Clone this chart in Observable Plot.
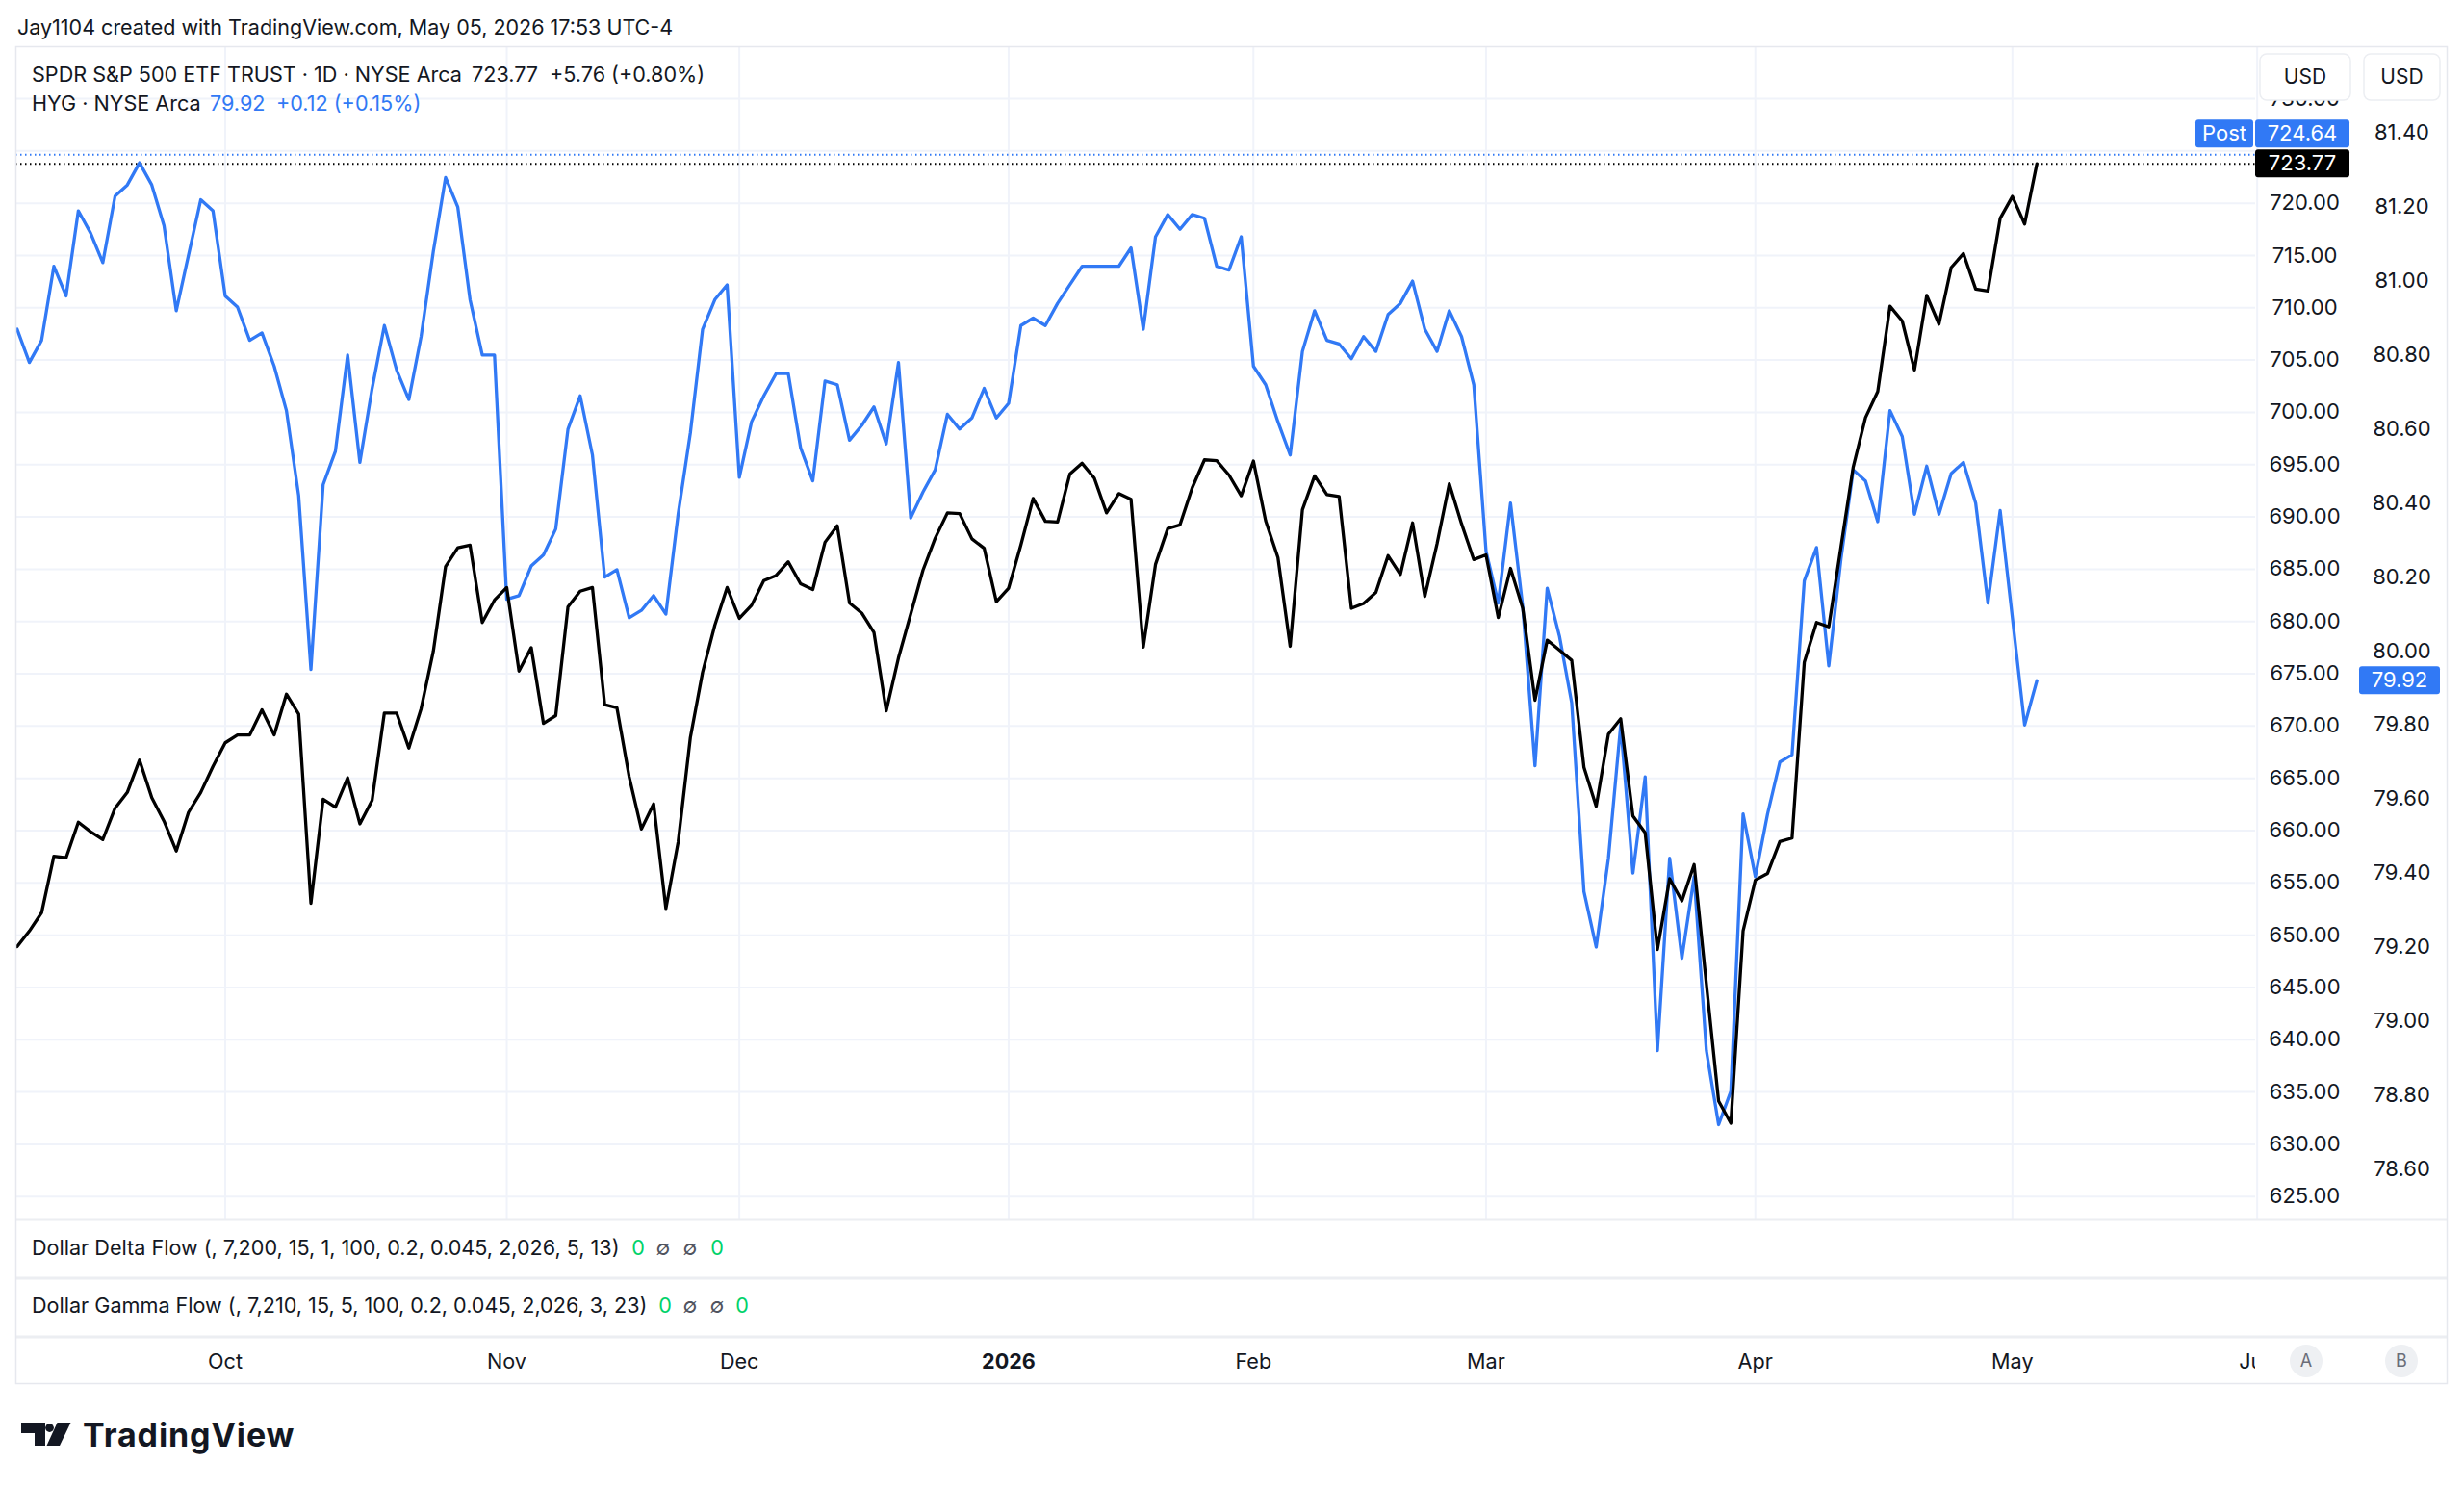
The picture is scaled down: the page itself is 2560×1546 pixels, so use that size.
<!DOCTYPE html>
<html>
<head>
<meta charset="utf-8">
<script src="https://cdn.jsdelivr.net/npm/d3@7"></script>
<script src="https://cdn.jsdelivr.net/npm/@observablehq/plot@0.6"></script>
<style>
  html, body { margin: 0; padding: 0; background: #ffffff; }
  body { font-family: Inter, "Noto Sans", sans-serif; color: #131722; }
  #wrap { position: relative; width: 2560px; height: 1546px; overflow: hidden; background: #fff; }
  #wrap > svg { position: absolute; left: 0; top: 0; }
  .t { position: absolute; white-space: nowrap; font-size: 21.6px; line-height: 1; transform: translateY(-50%); }
</style>
</head>
<body>
<div id="wrap"></div>
<script>
// ---------------- DATA ----------------
// Daily closes, one per trading bar, from 2025-09-08 to 2026-05-05
const spyClose = [
648.9, 650.4, 652.15, 657.55, 657.4, 660.8, 659.9, 659.15, 662.15, 663.65,
666.75, 663.15, 660.9, 658.05, 661.75, 663.65, 666.15, 668.4, 669.15, 669.15,
671.55, 669.15, 673.05, 671.15, 653.05, 663.0, 662.25, 665.05, 660.65, 662.9,
671.25, 671.25, 667.9, 671.65, 677.15, 685.25, 687.05, 687.3, 679.9, 682.05,
683.25, 675.25, 677.5, 670.25, 671.0, 681.4, 682.9, 683.25, 672.05, 671.75,
665.15, 660.15, 662.55, 652.55, 658.9, 668.9, 675.15, 679.65, 683.25, 680.3,
681.55, 683.9, 684.4, 685.71, 683.61, 683.06, 687.58, 689.16, 681.77, 680.81,
678.94, 671.45, 676.52, 680.71, 684.9, 687.97, 690.39, 690.32, 687.9, 687.0,
681.9, 683.19, 687.32, 691.77, 689.58, 689.52, 694.1, 695.13, 693.71, 690.39,
692.23, 691.68, 677.55, 685.46, 688.89, 689.24, 692.79, 695.46, 695.38, 694.01,
692.02, 695.34, 689.62, 686.11, 677.63, 690.69, 693.93, 692.14, 691.95, 681.26,
681.72, 682.79, 686.3, 684.5, 689.43, 682.4, 687.44, 693.17, 689.35, 685.92,
686.37, 680.38, 685.08, 681.26, 672.47, 678.22, 677.25, 676.28, 666.05, 662.33,
669.22, 670.7, 661.4, 659.79, 648.63, 655.4, 653.28, 656.75, 645.34, 634.14,
632.02, 650.41, 655.27, 655.91, 658.95, 659.29, 676.11, 679.91, 679.49, 687.18,
694.79, 699.5, 702.0, 710.15, 708.74, 704.05, 711.18, 708.44, 713.85, 715.19,
711.79, 711.6, 718.55, 720.65, 718.01, 723.77
];
const hygClose = [
80.87, 80.78, 80.84, 81.04, 80.96, 81.19, 81.13, 81.05, 81.23, 81.26,
81.32, 81.26, 81.15, 80.92, 81.07, 81.22, 81.19, 80.96, 80.93, 80.84,
80.86, 80.77, 80.65, 80.42, 79.95, 80.45, 80.54, 80.80, 80.51, 80.71,
80.88, 80.76, 80.68, 80.85, 81.08, 81.28, 81.20, 80.95, 80.80, 80.80,
80.14, 80.15, 80.23, 80.26, 80.33, 80.60, 80.69, 80.53, 80.20, 80.22,
80.09, 80.11, 80.15, 80.10, 80.37, 80.59, 80.87, 80.95, 80.99, 80.47,
80.62, 80.69, 80.75, 80.75, 80.55, 80.46, 80.73, 80.72, 80.57, 80.61,
80.66, 80.56, 80.78, 80.36, 80.43, 80.49, 80.64, 80.60, 80.63, 80.71,
80.63, 80.67, 80.88, 80.90, 80.88, 80.94, 80.99, 81.04, 81.04, 81.04,
81.04, 81.09, 80.87, 81.12, 81.18, 81.14, 81.18, 81.17, 81.04, 81.03,
81.12, 80.77, 80.72, 80.62, 80.53, 80.81, 80.92, 80.84, 80.83, 80.79,
80.85, 80.81, 80.91, 80.94, 81.00, 80.87, 80.81, 80.92, 80.85, 80.72,
80.27, 80.13, 80.40, 80.12, 79.69, 80.17, 80.04, 79.86, 79.35, 79.20,
79.44, 79.80, 79.40, 79.66, 78.92, 79.44, 79.17, 79.39, 78.92, 78.72,
78.81, 79.56, 79.39, 79.56, 79.70, 79.72, 80.19, 80.28, 79.96, 80.25,
80.49, 80.46, 80.35, 80.65, 80.58, 80.37, 80.50, 80.37, 80.48, 80.51,
80.40, 80.13, 80.38, 80.09, 79.80, 79.92
];
const spyLast = 723.77;
const spyPost = 724.64;
const hygLast = 79.92;

// Axis ticks
const spyTicks = [625,630,635,640,645,650,655,660,665,670,675,680,685,690,695,700,705,710,715,720,725,730];
const spyHiddenTicks = [725];   // covered by the price tags in the reference
const hygTicks = [78.6,78.8,79.0,79.2,79.4,79.6,79.8,80.0,80.2,80.4,80.6,80.8,81.0,81.2,81.4];
// Time axis: bar index of the first trading day of each month and its label
const monthBars   = [17, 40, 59, 81, 101, 120, 142, 163, 183];
const monthLabels = ["Oct", "Nov", "Dec", "2026", "Feb", "Mar", "Apr", "May", "Jun"];

// Legend texts
const titleText = "Jay1104 created with TradingView.com, May 05, 2026 17:53 UTC-4";
const spyLegend = ["SPDR S&P 500 ETF TRUST · 1D · NYSE Arca", "723.77", "+5.76 (+0.80%)"];
const hygLegend = ["HYG · NYSE Arca", "79.92", "+0.12 (+0.15%)"];
const deltaLegend = "Dollar Delta Flow (, 7,200, 15, 1, 100, 0.2, 0.045, 2,026, 5, 13)";
const gammaLegend = "Dollar Gamma Flow (, 7,210, 15, 5, 100, 0.2, 0.045, 2,026, 3, 23)";
const flowValues = ["0", "∅", "∅", "0"];

// ---------------- LAYOUT ----------------
const W = 2560, H = 1546;
const frameL = 16, frameR = 2542, plotR = 2343, plotT = 49, paneB = 1266;
const BLUE = "#3179f5", INK = "#131722", GRID = "#f0f3fa";
// second (HYG) price scale overlaid on the SPY scale
const HYG_AT_80 = 677.17, HYG_UNIT = 35.38;
const toSpy = h => HYG_AT_80 + (h - 80) * HYG_UNIT;

const spyData = spyClose.map((v, i) => ({i, v}));
const hygData = hygClose.map((h, i) => ({i, v: toSpy(h)}));
const ticks = monthBars.map((i, k) => ({i, label: monthLabels[k]}));
const spyLabelTicks = spyTicks.filter(t => !spyHiddenTicks.includes(t));

const plot = Plot.plot({
  width: W, height: H,
  marginLeft: frameL, marginRight: W - plotR, marginTop: plotT, marginBottom: H - paneB,
  style: {fontFamily: "Inter, 'Noto Sans', sans-serif", background: "transparent", color: INK},
  x: {type: "linear", domain: [-0.102, 182.87], axis: null},
  y: {type: "linear", domain: [622.86, 734.88], axis: null},
  marks: [
    Plot.ruleY(spyTicks, {stroke: GRID, strokeWidth: 2}),
    Plot.ruleX(ticks, {x: "i", stroke: GRID, strokeWidth: 2}),
    Plot.ruleY([spyPost], {stroke: BLUE, strokeWidth: 2, strokeDasharray: "1.5,3.5"}),
    Plot.ruleY([spyLast], {stroke: "#000", strokeWidth: 2, strokeDasharray: "1.5,3.5"}),
    Plot.line(hygData, {x: "i", y: "v", stroke: BLUE, strokeWidth: 3.3, strokeLinejoin: "round"}),
    Plot.line(spyData, {x: "i", y: "v", stroke: "#000", strokeWidth: 3.3, strokeLinejoin: "round"}),
    Plot.text(spyLabelTicks, {y: d => d, text: d => d.toFixed(2), frameAnchor: "right", textAnchor: "middle", lineAnchor: "middle", dx: 51, fontSize: 22, fill: INK}),
    Plot.text(hygTicks, {y: d => toSpy(d), text: d => d.toFixed(2), frameAnchor: "right", textAnchor: "middle", lineAnchor: "middle", dx: 152, fontSize: 22, fill: INK}),
    Plot.text(ticks.filter(d => d.label !== "2026"), {x: "i", text: "label", frameAnchor: "bottom", lineAnchor: "middle", textAnchor: "middle", dy: 1415 - paneB, fontSize: 21.6, fill: INK}),
    Plot.text(ticks.filter(d => d.label === "2026"), {x: "i", text: "label", frameAnchor: "bottom", lineAnchor: "middle", textAnchor: "middle", dy: 1415 - paneB, fontSize: 21.6, fontWeight: 700, fill: INK})
  ]
});

const wrap = document.getElementById("wrap");
wrap.appendChild(plot);
const svg = d3.select(plot);
const ys = plot.scale("y");

// pane separators and frame
const g = svg.append("g");
[1267, 1328, 1389].forEach(y => {
  g.append("line").attr("x1", frameL).attr("x2", frameR).attr("y1", y).attr("y2", y)
    .attr("stroke", "#eceef2").attr("stroke-width", 3);
});
// cover right part of time axis row (price axis column)
g.append("rect").attr("x", plotR).attr("y", 1391).attr("width", frameR - plotR - 1).attr("height", 46).attr("fill", "#fff");
g.append("rect").attr("x", frameL + 0.5).attr("y", plotT - 0.5).attr("width", frameR - frameL).attr("height", 1438 - plotT)
  .attr("fill", "none").attr("stroke", "#e6e8ee").attr("stroke-width", 1.5);

// A / B buttons
[["A", 2396], ["B", 2495]].forEach(([s, x]) => {
  g.append("circle").attr("cx", x).attr("cy", 1414).attr("r", 17).attr("fill", "#eef0f3");
  g.append("text").attr("x", x).attr("y", 1414).attr("dy", "0.35em").attr("text-anchor", "middle")
    .attr("font-size", 18).attr("fill", "#6a6d78").text(s);
});

// USD boxes
[[2348, 2442], [2456, 2535]].forEach(([x1, x2]) => {
  g.append("rect").attr("x", x1).attr("y", 56).attr("width", x2 - x1).attr("height", 48).attr("rx", 7)
    .attr("fill", "#fff").attr("stroke", "#eceef2").attr("stroke-width", 1.5);
  g.append("text").attr("x", (x1 + x2) / 2).attr("y", 80).attr("dy", "0.35em").attr("text-anchor", "middle")
    .attr("font-size", 21).attr("fill", INK).text("USD");
});

// price labels
function tag(x1, x2, yc, fill, label) {
  g.append("rect").attr("x", x1).attr("y", yc - 14.5).attr("width", x2 - x1).attr("height", 29).attr("rx", 3).attr("fill", fill);
  g.append("text").attr("x", (x1 + x2) / 2).attr("y", yc).attr("dy", "0.35em").attr("text-anchor", "middle")
    .attr("font-size", 22).attr("fill", "#fff").text(label);
}
const yLast = ys.apply(spyLast);
tag(2343, 2441, yLast, "#000", spyLast.toFixed(2));
const yPost = yLast - 31;
tag(2343, 2441, yPost, BLUE, spyPost.toFixed(2));
tag(2281, 2341, yPost, BLUE, "Post");
tag(2451, 2535, ys.apply(toSpy(hygLast)), BLUE, hygLast.toFixed(2));

// TradingView logo
const lg = svg.append("g").attr("fill", INK);
lg.append("path").attr("d", "M22,1478 H47 V1502 H36 V1489 H22 Z");
lg.append("circle").attr("cx", 51.5).attr("cy", 1483.5).attr("r", 4.4);
lg.append("path").attr("d", "M59.5,1478 H73.5 L62,1502 H48.5 Z");
lg.append("text").attr("x", 86).attr("y", 1503).attr("text-anchor", "start").attr("font-size", 34).attr("font-weight", 700)
  .attr("letter-spacing", 0.9).text("TradingView");

// ---------------- HTML text ----------------
function txt(s, x, y, o = {}) {
  const el = document.createElement("div");
  el.className = "t";
  el.textContent = s;
  el.style.left = x + "px";
  el.style.top = y + "px";
  if (o.color) el.style.color = o.color;
  if (o.size) el.style.fontSize = o.size + "px";
  if (o.weight) el.style.fontWeight = o.weight;
  if (o.center) el.style.transform = "translate(-50%,-50%)";
  wrap.appendChild(el);
  return el;
}
txt(titleText, 18, 29, {size: 21.5});
txt(spyLegend[0], 33, 78);
txt(spyLegend[1], 490, 78);
txt(spyLegend[2], 571, 78);
txt(hygLegend[0], 33, 108);
txt(hygLegend[1], 218, 108, {color: BLUE});
txt(hygLegend[2], 287, 108, {color: BLUE});

txt(deltaLegend, 33, 1297);
[663, 689, 717, 745].forEach((x, k) => txt(flowValues[k], x, 1297, {center: true, color: flowValues[k] === "0" ? "#00d26a" : "#50535e"}));
txt(gammaLegend, 33, 1357);
[691, 717, 745, 771].forEach((x, k) => txt(flowValues[k], x, 1357, {center: true, color: flowValues[k] === "0" ? "#00d26a" : "#50535e"}));
</script>
</body>
</html>
